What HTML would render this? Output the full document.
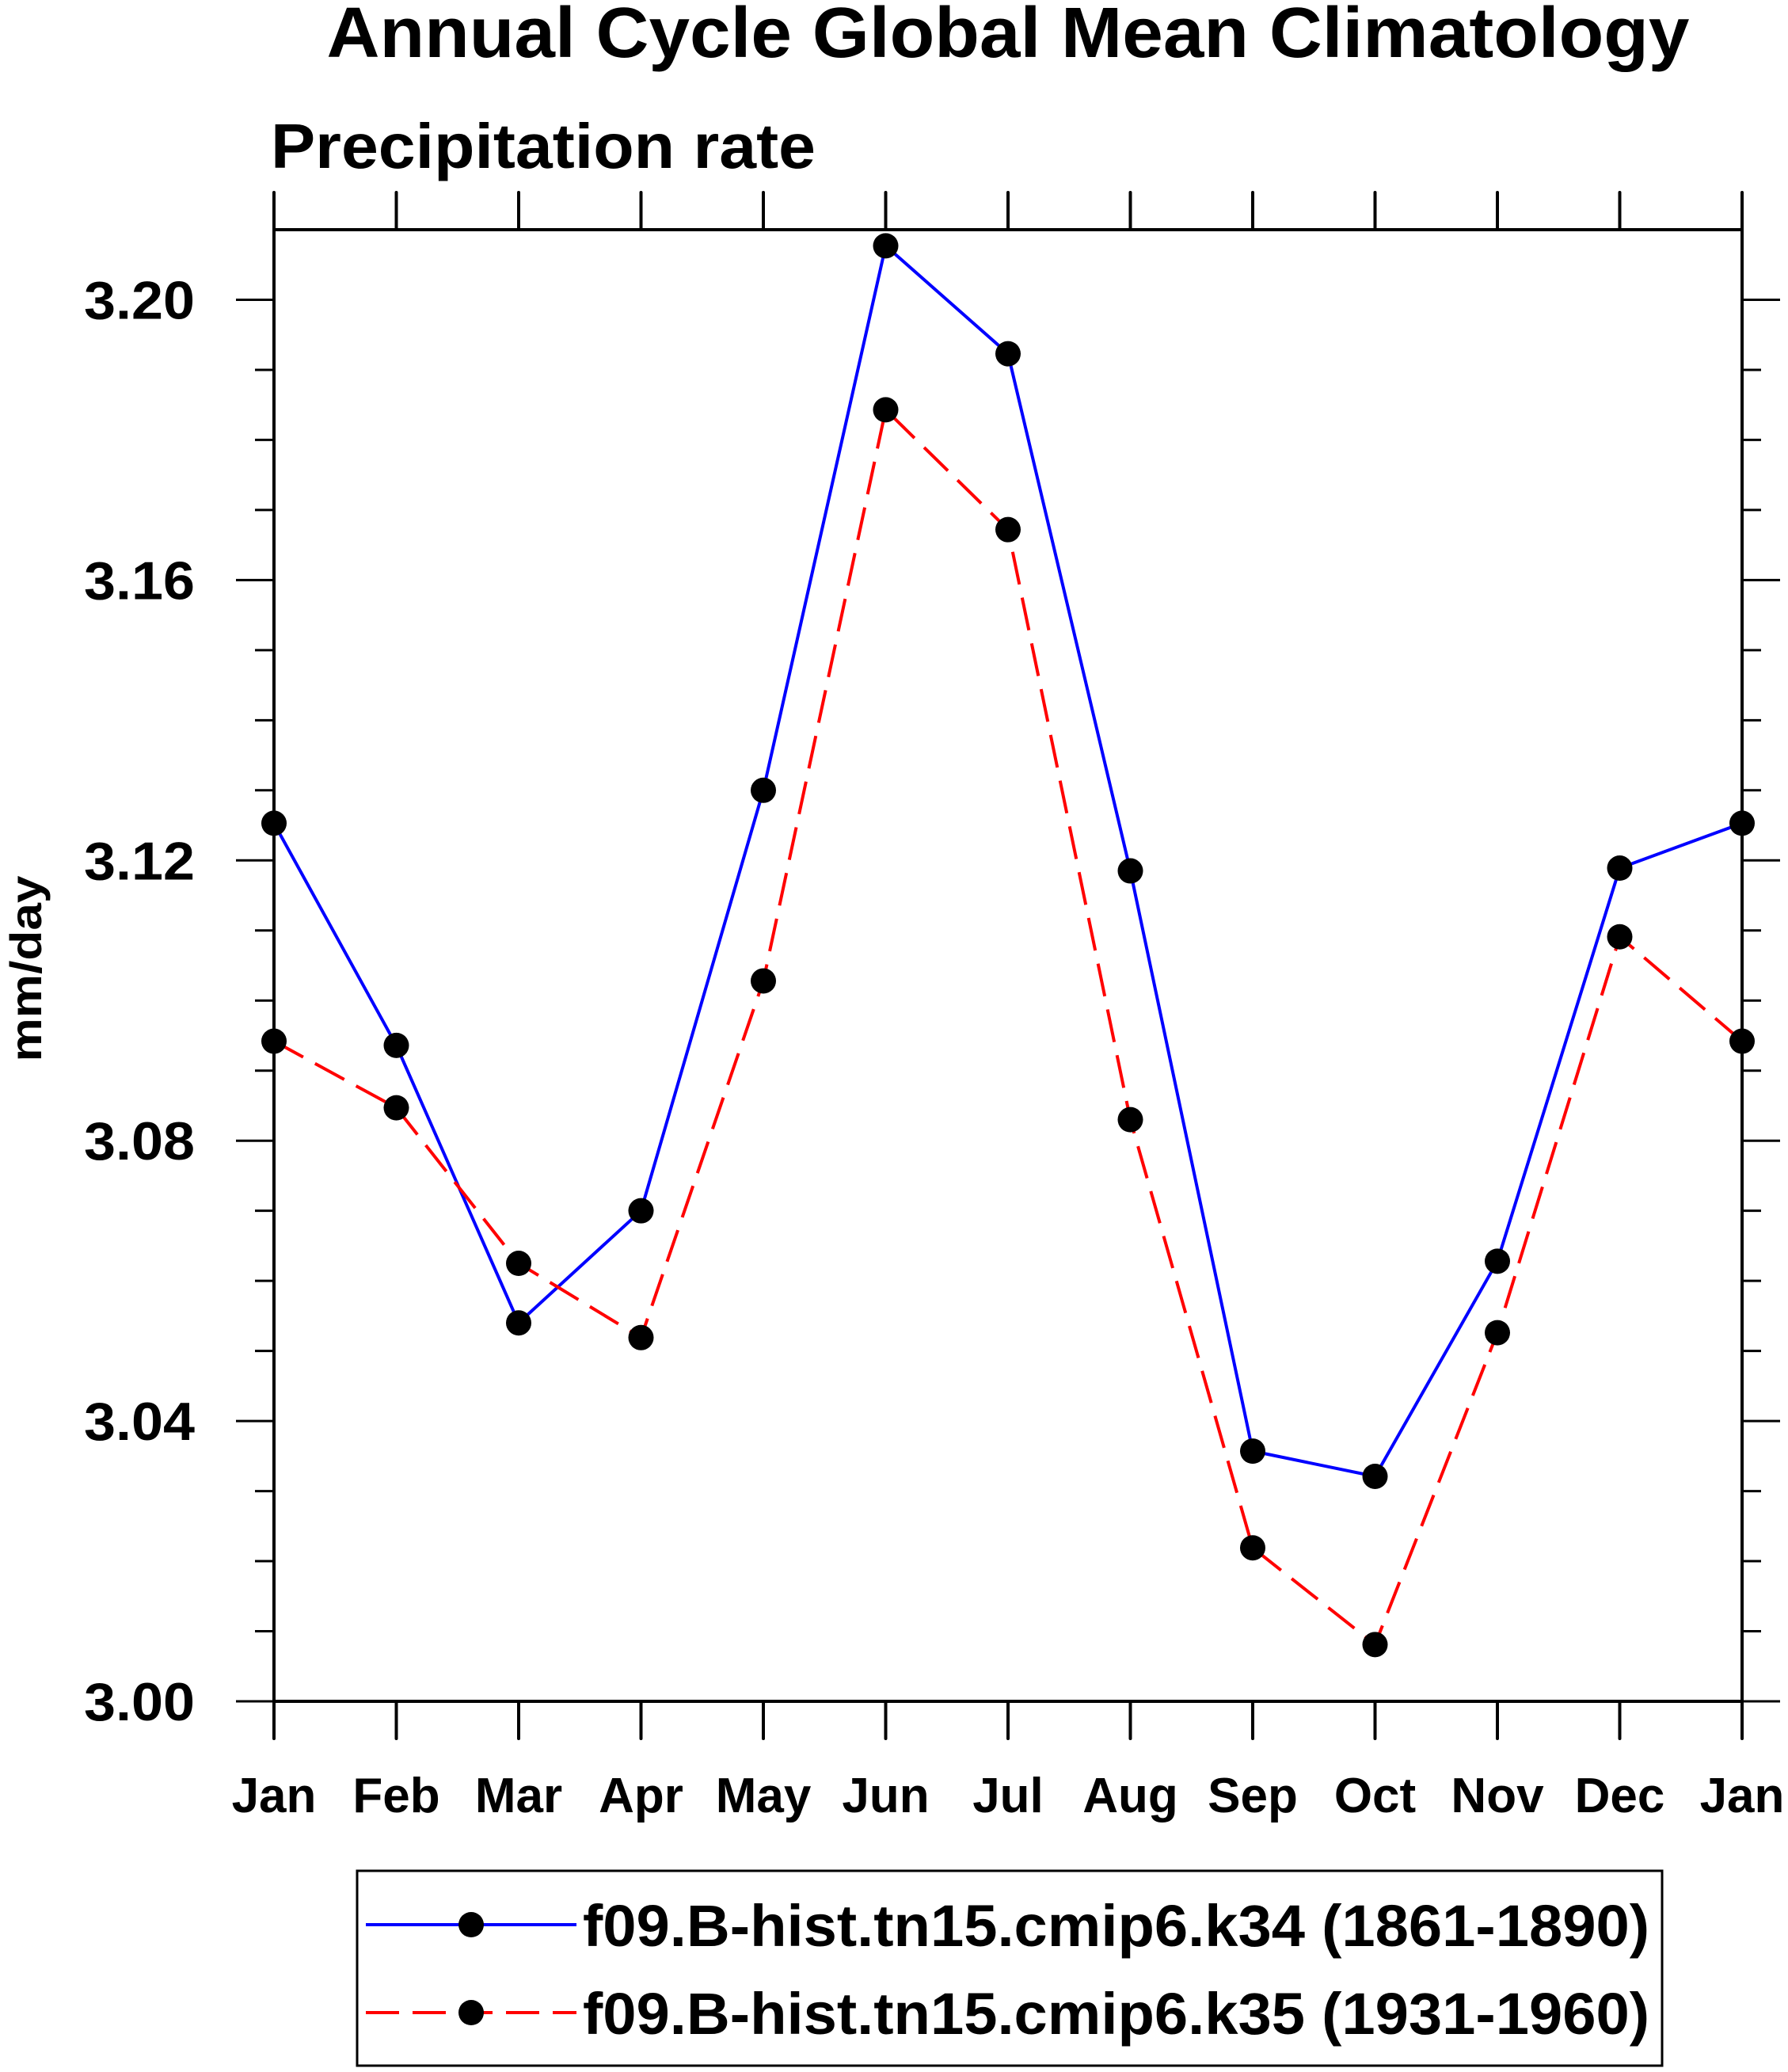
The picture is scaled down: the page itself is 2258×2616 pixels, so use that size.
<!DOCTYPE html>
<html><head><meta charset="utf-8"><style>
html,body{margin:0;padding:0;background:#fff;}
svg{display:block;font-family:"Liberation Sans",sans-serif;font-weight:bold;}
</style></head><body>
<svg id="chart" width="2258" height="2616" viewBox="0 0 2258 2616" xmlns="http://www.w3.org/2000/svg">
<text x="1273" y="72" font-size="90" text-anchor="middle" textLength="1721" lengthAdjust="spacingAndGlyphs">Annual Cycle Global Mean Climatology</text>
<text x="342" y="212" font-size="80" textLength="688" lengthAdjust="spacingAndGlyphs">Precipitation rate</text>
<text transform="translate(52,1223) rotate(-90)" font-size="56" text-anchor="middle" textLength="235" lengthAdjust="spacingAndGlyphs">mm/day</text>
<g id="axes"></g>
<g id="series"></g>
<rect x="451" y="2362" width="1648" height="246" fill="none" stroke="#000" stroke-width="3"/>
<g>
<line x1="462" y1="2430" x2="728" y2="2430" stroke="#0000ff" stroke-width="4"/>
<circle cx="595" cy="2430" r="16" fill="#000"/>
<text x="736" y="2457" font-size="74" textLength="1347" lengthAdjust="spacingAndGlyphs">f09.B-hist.tn15.cmip6.k34 (1861-1890)</text>
</g>
<g>
<line x1="462" y1="2541" x2="728" y2="2541" stroke="#ff0000" stroke-width="4" stroke-dasharray="42,17"/>
<circle cx="595" cy="2541" r="16" fill="#000"/>
<text x="736" y="2568" font-size="74" textLength="1347" lengthAdjust="spacingAndGlyphs">f09.B-hist.tn15.cmip6.k35 (1931-1960)</text>
</g>
</svg>
<script>
const months = ["Jan","Feb","Mar","Apr","May","Jun","Jul","Aug","Sep","Oct","Nov","Dec","Jan"];
const k34Values = [3.1253,3.0936,3.054,3.070,3.130,3.2077,3.1923,3.1185,3.0357,3.0321,3.0628,3.1189,3.1253];
const k35Values = [3.0942,3.0847,3.0625,3.0519,3.1028,3.1843,3.1672,3.083,3.0219,3.0081,3.0526,3.1091,3.0942];
const yTickLabels = ["3.00","3.04","3.08","3.12","3.16","3.20"];
const yMin = 3.00, yMax = 3.21;

const L=346, R=2200, T=290, B=2148;
const NS="http://www.w3.org/2000/svg";
function xs(i){return L+(R-L)*i/(months.length-1);}
function ys(v){return B-(B-T)*(v-yMin)/(yMax-yMin);}
function mk(tag,attrs,parent){const e=document.createElementNS(NS,tag);for(const k in attrs)e.setAttribute(k,attrs[k]);parent.appendChild(e);return e;}
const axes=document.getElementById('axes');
const frame=mk('rect',{x:L,y:T,width:R-L,height:B-T,fill:'none',stroke:'#000','stroke-width':4},axes);


months.forEach((m,i)=>{
  const x=xs(i);
  const tb=mk('line',{x1:x,y1:B,x2:x,y2:B+47,stroke:'#000','stroke-width':4,'stroke-linecap':'round'},axes);
  
  
  const tt=mk('line',{x1:x,y1:T,x2:x,y2:T-47,stroke:'#000','stroke-width':4,'stroke-linecap':'round'},axes);
  
  
  const lb=mk('text',{x:x,y:2288,'font-size':62,'text-anchor':'middle'},axes);
  lb.textContent=m;
  
  
});
for(let k=0;k<=20;k++){
  const v=yMin+k*0.01, y=ys(v), major=(k%4===0), len=major?48:24;
  const a=mk('line',{x1:L-len,y1:y,x2:L,y2:y,stroke:'#000','stroke-width':3},axes);
  
  
  const b=mk('line',{x1:R,y1:y,x2:R+len,y2:y,stroke:'#000','stroke-width':3},axes);
  
  
}
yTickLabels.forEach(s=>{
  const t=mk('text',{x:246,y:ys(parseFloat(s))+24,'font-size':68,'text-anchor':'end',textLength:140,lengthAdjust:'spacingAndGlyphs'},axes);
  t.textContent=s;
  
  
});
const series=document.getElementById('series');
function draw(vals,color,dash,name){
  const g=mk('g',{},series);
  
  
  const pts=vals.map((v,i)=>xs(i)+','+ys(v)).join(' ');
  const pl=mk('polyline',{points:pts,fill:'none',stroke:color,'stroke-width':4,'stroke-dasharray':dash},g);
  
  
  vals.forEach((v,i)=>{
    const c=mk('circle',{cx:xs(i),cy:ys(v),r:16,fill:'#000'},g);
    
    
  });
}
draw(k34Values,'#0000ff','none','series-k34');
draw(k35Values,'#ff0000','42,17','series-k35');
</script>
</body></html>
